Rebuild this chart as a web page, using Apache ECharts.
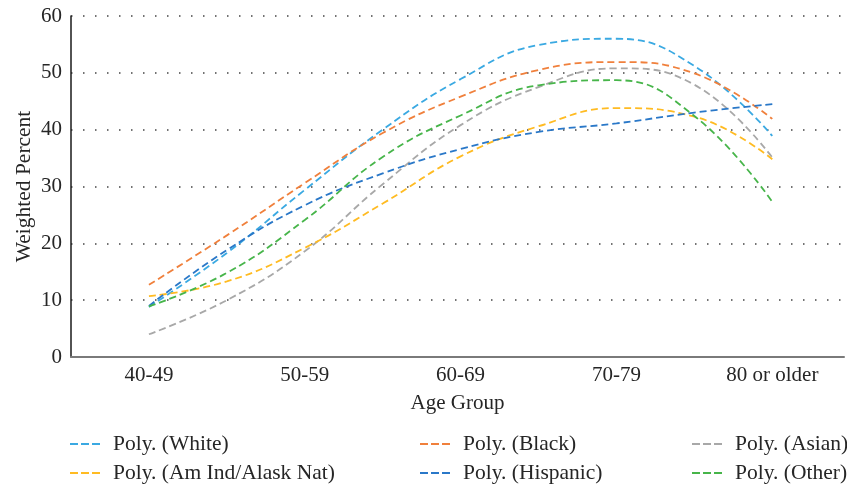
<!DOCTYPE html>
<html>
<head>
<meta charset="utf-8">
<script src="https://cdn.jsdelivr.net/npm/echarts@6/dist/echarts.min.js"></script>
<style>html,body{margin:0;padding:0;background:#fff}#c{width:847px;height:485px}</style>
</head>
<body>
<div id="c"></div>
<script>
var categories = ['40-49', '50-59', '60-69', '70-79', '80 or older'];
// sample positions along the category axis (0 = 40-49 ... 4 = 80 or older)
var xPos = [0, 0.5, 1, 1.5, 2, 2.5, 3, 3.5, 4];
var white    = [8.8, 18.3, 29.4, 40.0, 48.9, 54.9, 56.0, 51.2, 38.9];
var black    = [12.7, 21.4, 30.6, 39.4, 45.8, 50.5, 51.9, 49.9, 41.9];
var asian    = [4.0, 10.0, 18.6, 30.4, 40.8, 47.5, 50.8, 47.9, 35.1];
var amInd    = [10.7, 13.3, 19.2, 27.0, 35.3, 40.6, 43.8, 42.3, 34.8];
var hispanic = [9.0, 18.8, 26.7, 32.3, 36.6, 39.6, 41.1, 43.0, 44.5];
var other    = [8.9, 14.8, 24.1, 35.2, 42.5, 47.8, 48.7, 42.4, 27.3];
var yTicks = [0, 10, 20, 30, 40, 50, 60];

var names = ['Poly. (White)', 'Poly. (Black)', 'Poly. (Asian)', 'Poly. (Am Ind/Alask Nat)', 'Poly. (Hispanic)', 'Poly. (Other)'];
var colors = ['#3aa9e2', '#f0803c', '#a8a8a8', '#ffbb22', '#2a78c8', '#47b54a'];
var datasets = [white, black, asian, amInd, hispanic, other];

var FONT = 'Liberation Serif';
var dashIcon = 'path://M0,0h8v2h-8z M11,0h8v2h-8z M22,0h8v2h-8z';

function pairs(vals) { return vals.map(function (v, i) { return [xPos[i], v]; }); }

var series = datasets.map(function (d, i) {
  return {
    name: names[i], type: 'line', data: pairs(d), smooth: 0.45,
    symbol: 'none', color: colors[i],
    lineStyle: { color: colors[i], width: 1.8, type: [7, 4] }
  };
});

var legendLefts = [70, 420, 692];
var legendTops = [433, 462];
var legends = names.map(function (n, i) {
  return {
    left: legendLefts[i % 3], top: legendTops[Math.floor(i / 3)], padding: 0,
    itemWidth: 30, itemHeight: 2, icon: dashIcon, data: [n],
    textStyle: { fontFamily: FONT, fontSize: 21.5, color: '#262626', lineHeight: 22, padding: [0, 0, 0, 8] }
  };
});

var chart = echarts.init(document.getElementById('c'));
chart.setOption({
  animation: false,
  backgroundColor: '#fff',
  grid: { left: 71, right: 0, top: 16, bottom: 128, containLabel: false },
  legend: legends,
  xAxis: {
    type: 'value', min: -0.5, max: 4.46, interval: 0.5,
    name: 'Age Group', nameLocation: 'middle', nameGap: 36, nameMoveOverlap: false,
    nameTextStyle: { fontFamily: FONT, fontSize: 21, color: '#262626' },
    axisLine: { show: true, onZero: false, lineStyle: { color: '#7a7a7a', width: 2 } },
    axisTick: { show: false },
    splitLine: { show: false },
    axisLabel: {
      fontFamily: FONT, fontSize: 21, color: '#262626', margin: 8,
      showMinLabel: true, showMaxLabel: true,
      formatter: function (v) {
        var r = Math.round(v);
        return (Math.abs(v - r) < 1e-6 && r >= 0 && r < categories.length) ? categories[r] : '';
      }
    }
  },
  yAxis: {
    type: 'value', min: yTicks[0], max: yTicks[yTicks.length - 1], interval: 10,
    name: 'Weighted Percent', nameLocation: 'middle', nameGap: 36, nameMoveOverlap: false,
    nameTextStyle: { fontFamily: FONT, fontSize: 21.5, color: '#262626' },
    axisLine: { show: true, onZero: false, lineStyle: { color: '#1a1a1a', width: 1.5 } },
    axisTick: { show: false },
    splitLine: { show: true, lineStyle: { color: '#444', width: 1.5, type: [1.5, 10.5] } },
    axisLabel: { fontFamily: FONT, fontSize: 21, color: '#262626', margin: 9 }
  },
  series: series
});
</script>
</body>
</html>
